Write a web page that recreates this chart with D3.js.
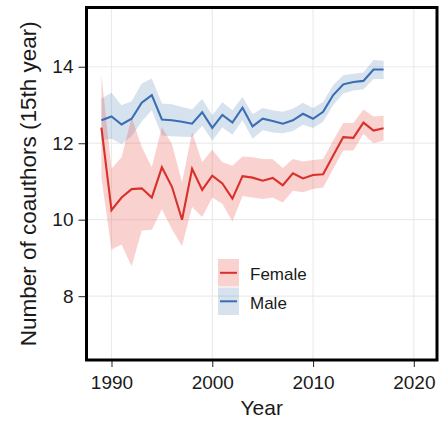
<!DOCTYPE html>
<html><head><meta charset="utf-8">
<script src="https://cdn.jsdelivr.net/npm/d3@7"></script>
<style>body{margin:0;background:#fff}svg{display:block}</style>
</head><body>
<script>
const years = d3.range(1989, 2018);
const femaleMean = [12.41,10.25,10.58,10.80,10.82,10.58,11.37,10.86,10.00,11.33,10.78,11.15,10.95,10.55,11.14,11.10,11.02,11.09,10.90,11.21,11.08,11.17,11.19,11.68,12.16,12.14,12.54,12.33,12.39];
const femaleUpper = [13.78,11.33,11.63,12.68,11.90,11.37,12.42,11.98,10.97,12.29,11.50,11.83,11.50,11.41,11.65,11.63,11.59,11.58,11.35,11.59,11.52,11.56,11.59,12.07,12.53,12.53,12.88,12.70,12.72];
const femaleLower = [11.10,9.22,9.35,8.78,9.72,9.74,10.27,9.75,9.31,10.33,10.07,10.58,10.42,9.95,10.62,10.58,10.54,10.58,10.45,10.76,10.72,10.80,10.84,11.33,11.81,11.81,12.25,12.00,12.07];
const maleMean = [12.60,12.70,12.49,12.64,13.06,13.26,12.62,12.60,12.56,12.51,12.81,12.40,12.74,12.54,12.93,12.44,12.64,12.58,12.51,12.60,12.77,12.64,12.82,13.26,13.54,13.60,13.63,13.93,13.93];
const maleUpper = [13.17,13.32,12.99,13.10,13.56,13.69,13.04,13.02,12.95,12.88,13.16,12.73,13.07,12.86,13.21,12.76,12.92,12.86,12.82,12.90,13.06,12.92,13.08,13.52,13.78,13.82,13.85,14.18,14.16];
const maleLower = [12.07,12.12,11.98,12.18,12.57,12.86,12.20,12.18,12.17,12.16,12.46,12.07,12.41,12.22,12.60,12.12,12.34,12.28,12.26,12.32,12.48,12.40,12.56,13.00,13.30,13.38,13.41,13.68,13.68];
const xTicks = [1990, 2000, 2010, 2020];
const yTicks = [8, 10, 12, 14];
const legendLabels = ["Female", "Male"];

const W = 439, H = 423;
const L = 86.5, R = 437, T = 7.5, B = 360;
const svg = d3.select("body").append("svg").attr("width", W).attr("height", H)
  .style("font-family", "'Liberation Sans', Arial, Helvetica, sans-serif");

const x = d3.scaleLinear().domain([1987.52, 2022.3]).range([L, R]);
const y = d3.scaleLinear().domain([6.33, 15.55]).range([B, T]);

// grid
const g = svg.append("g");
g.selectAll(".gx").data(xTicks).enter().append("line")
  .attr("x1", d => x(d)).attr("x2", d => x(d)).attr("y1", T).attr("y2", B)
  .attr("stroke", "#ebebeb").attr("stroke-width", 1.2);
g.selectAll(".gy").data(yTicks).enter().append("line")
  .attr("y1", d => y(d)).attr("y2", d => y(d)).attr("x1", L).attr("x2", R)
  .attr("stroke", "#ebebeb").attr("stroke-width", 1.2);

const area = (lo, hi) => d3.area().x((d, i) => x(years[i])).y0((d, i) => y(lo[i])).y1((d, i) => y(hi[i]));
const line = (m) => d3.line().x((d, i) => x(years[i])).y((d, i) => y(m[i]));

svg.append("path").datum(maleMean).attr("d", area(maleLower, maleUpper))
  .attr("fill", "#4a7ab8").attr("fill-opacity", 0.22);
svg.append("path").datum(femaleMean).attr("d", area(femaleLower, femaleUpper))
  .attr("fill", "#e8483f").attr("fill-opacity", 0.25);
svg.append("path").datum(maleMean).attr("d", line(maleMean))
  .attr("fill", "none").attr("stroke", "#3b6db3").attr("stroke-width", 2.1);
svg.append("path").datum(femaleMean).attr("d", line(femaleMean))
  .attr("fill", "none").attr("stroke", "#d9302a").attr("stroke-width", 2.1);

// axes
const xAxis = d3.axisBottom(x).tickValues(xTicks).tickSize(7).tickPadding(4).tickFormat(d3.format("d"));
const yAxis = d3.axisLeft(y).tickValues(yTicks).tickSize(8).tickPadding(5);
const gx = svg.append("g").attr("transform", `translate(0,${B})`).call(xAxis);
const gy = svg.append("g").attr("transform", `translate(${L},0)`).call(yAxis);
[gx, gy].forEach(a => {
  a.select(".domain").remove();
  a.selectAll(".tick line").attr("stroke", "#333").attr("stroke-width", 1.1);
  a.selectAll(".tick text").attr("fill", "#1a1a1a").style("font-size", "19px");
});
gx.selectAll(".tick text").attr("dy", null).attr("y", 29.3);

// frame
svg.append("rect").attr("x", L).attr("y", T).attr("width", R - L).attr("height", B - T)
  .attr("fill", "none").attr("stroke", "#000").attr("stroke-width", 3);

// axis titles
svg.append("text").attr("x", (L + R) / 2).attr("y", 415).attr("text-anchor", "middle")
  .style("font-size", "21px").attr("fill", "#1a1a1a").text("Year");
svg.append("text").attr("transform", `translate(36,${(T + B) / 2}) rotate(-90)`)
  .attr("text-anchor", "middle").style("font-size", "22.5px").attr("fill", "#1a1a1a")
  .text("Number of coauthors (15th year)");

// legend
const leg = svg.append("g").attr("transform", "translate(218,259)");
const legColors = [["#e8483f", 0.25, "#d9302a"], ["#4a7ab8", 0.22, "#3b6db3"]];
legendLabels.forEach((lab, i) => {
  const gg = leg.append("g").attr("transform", `translate(0,${i * 28.5})`);
  gg.append("rect").attr("width", 21).attr("height", 27.5)
    .attr("fill", legColors[i][0]).attr("fill-opacity", legColors[i][1]);
  gg.append("line").attr("x1", 2).attr("x2", 19).attr("y1", 13.8).attr("y2", 13.8)
    .attr("stroke", legColors[i][2]).attr("stroke-width", 2);
  gg.append("text").attr("x", 32).attr("y", 21).style("font-size", "17px")
    .attr("fill", "#1a1a1a").text(lab);
});
</script>
</body></html>
